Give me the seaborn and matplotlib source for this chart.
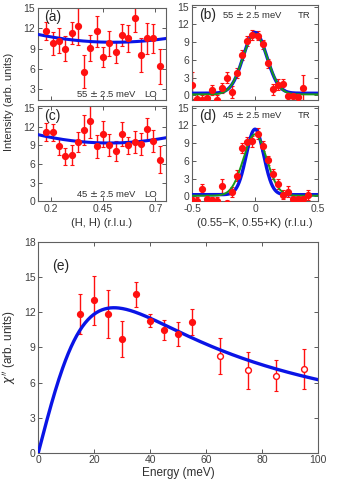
import numpy as np
import pandas as pd
import matplotlib.pyplot as plt
import seaborn as sns

sns.set_style("ticks")
plt.rcParams['font.family'] = ['Liberation Sans', 'DejaVu Sans']

# (a) / (c) longitudinal scans along (H, H)
h_lo = [0.18, 0.21, 0.24, 0.27, 0.30, 0.33, 0.36, 0.39, 0.42, 0.45,
        0.48, 0.51, 0.54, 0.57, 0.60, 0.63, 0.66, 0.69, 0.72]
lo55 = [11.6, 9.8, 10.2, 9.0, 11.3, 12.3, 5.6, 9.1, 11.6, 7.7,
        9.8, 8.5, 11.0, 10.5, 13.5, 8.1, 10.5, 10.5, 6.4]
lo55_err = [1.35, 1.7, 1.9, 1.8, 1.6, 2.7, 2.5, 1.9, 2.3, 1.5,
            1.85, 1.7, 1.6, 2.0, 2.0, 2.5, 2.3, 2.2, 2.6]
lo45 = [11.1, 11.1, 8.8, 7.2, 7.5, 9.5, 11.4, 12.9, 8.8, 10.8,
        9.0, 8.0, 10.8, 9.0, 9.5, 9.2, 11.6, 9.7, 6.7]
lo45_err = [1.4, 1.35, 1.35, 1.35, 1.6, 1.6, 2.4, 2.7, 1.8, 2.1,
            1.75, 1.6, 1.9, 1.35, 1.75, 1.75, 1.8, 1.8, 2.1]
# parabolic background fits: minimum, curvature, centre
lo55_fit = [9.94, 9.0, 0.50]
lo45_fit = [9.36, 11.6, 0.48]

# (b) / (d) transverse scans along (0.55-K, 0.55+K)
k_tr55 = [-0.50, -0.46, -0.42, -0.38, -0.34, -0.30, -0.26, -0.22, -0.18, -0.14,
          -0.10, -0.06, -0.02, 0.02, 0.06, 0.10, 0.14, 0.18, 0.22, 0.26,
          0.30, 0.34, 0.38]
tr55 = [1.7, -0.6, -0.8, -0.4, 0.9, -0.8, 1.2, 3.0, 0.5, 3.8,
        6.8, 9.2, 10.2, 10.1, 8.6, 5.4, 1.0, 1.8, 1.9, -0.2,
        -0.2, -0.3, 1.2]
tr55_err = [2.3, 1.0, 0.9, 1.0, 0.9, 0.9, 0.9, 1.0, 1.0, 0.9,
            0.8, 0.8, 0.8, 0.8, 0.8, 0.8, 0.9, 0.9, 0.9, 0.8,
            0.8, 0.9, 2.2]
k_tr45 = [-0.50, -0.46, -0.42, -0.38, -0.34, -0.30, -0.26, -0.22, -0.18, -0.14,
          -0.10, -0.06, -0.02, 0.02, 0.06, 0.10, 0.14, 0.18, 0.22, 0.26,
          0.30, 0.34, 0.38, 0.42]
tr45 = [-0.7, -0.8, 1.2, -0.4, -0.7, -0.8, 1.75, -1.2, 0.7, 3.5,
        8.2, 9.2, 9.3, 10.6, 8.5, 6.1, 3.8, 2.1, 0.3, 0.8,
        -0.5, -0.5, -0.5, 0.2]
tr45_err = [0.6, 0.6, 0.9, 0.6, 0.6, 0.6, 1.2, 0.3, 0.9, 0.9,
            0.8, 0.8, 1.0, 0.9, 0.8, 0.8, 0.8, 0.8, 0.8, 0.9,
            0.4, 0.4, 0.4, 0.9]
# gaussian fits: peak, sigma, background
tr55_blue = [10.3, 0.093, 0.34]
tr55_green = [10.2, 0.097, 0.15]
tr45_blue = [11.1, 0.069, 0.27]
tr45_green = [10.4, 0.092, 0.1]

# (e) chi'' vs energy
energy_fill = [15, 20, 25, 30, 35, 40, 45, 50, 55]
chi_fill = [11.86, 13.03, 11.86, 9.72, 13.54, 11.29, 10.49, 10.15, 11.17]
chi_fill_err = [1.7, 2.1, 2.07, 1.57, 1.04, 0.57, 0.86, 1.0, 1.13]
energy_open = [65, 75, 85, 95]
chi_open = [8.23, 7.06, 6.57, 7.17]
chi_open_err = [1.54, 1.59, 1.33, 1.74]
# relaxational fit: amplitude, gamma
chi_fit = [24.8, 27.0]

red = '#ff1010'
blue = '#0a14e6'
green = '#1a9a1a'
frame = '#606060'


def style(ax, xlim, ylim, yticks, xticks):
    ax.set_xlim(xlim)
    ax.set_ylim(ylim)
    ax.set_yticks(yticks)
    ax.set_xticks(xticks)
    ax.tick_params(direction='in', top=True, right=True, length=3,
                   width=0.6, colors='#404040', labelsize=7.5, pad=2)
    for s in ax.spines.values():
        s.set_color(frame)
        s.set_linewidth(0.8)
    ax.set_xlabel('')
    ax.set_ylabel('')


def points(ax, x, y, err, filled=True):
    ax.errorbar(x, y, yerr=err, fmt='none', ecolor=red, elinewidth=1.0,
                capsize=1.3, capthick=0.8, zorder=2)
    fc = red if filled else 'white'
    ax.plot(x, y, 'o', ms=4.2, mfc=fc, mec=red, mew=1.0, zorder=4,
            linestyle='none')


fig = plt.figure(figsize=(3.54, 4.84), dpi=100)
ax_a = fig.add_axes([0.1073, 0.7924, 0.3616, 0.1921])
ax_c = fig.add_axes([0.1073, 0.5841, 0.3616, 0.1969])
ax_b = fig.add_axes([0.5424, 0.7934, 0.3559, 0.1953])
ax_d = fig.add_axes([0.5424, 0.5841, 0.3559, 0.1969])
ax_e = fig.add_axes([0.1082, 0.0647, 0.791, 0.4347])

# longitudinal panels
hx = np.linspace(0.14, 0.75, 200)
for ax, y, e, fit, lab, en in [(ax_a, lo55, lo55_err, lo55_fit, '(a)', '55'),
                               (ax_c, lo45, lo45_err, lo45_fit, '(c)', '45')]:
    curve = pd.DataFrame({'h': hx, 'i': fit[0] + fit[1] * (hx - fit[2]) ** 2})
    points(ax, h_lo, y, e)
    sns.lineplot(data=curve, x='h', y='i', ax=ax, color=blue, lw=2.2, zorder=3)
    ax.text(0.05, 0.97, lab, transform=ax.transAxes, fontsize=10, va='top')
    ax.text(0.30, 0.04, en + r' $\pm$ 2.5 meV', transform=ax.transAxes,
            fontsize=6.8, color='#303030')
    ax.text(0.83, 0.04, 'LO', transform=ax.transAxes, fontsize=6.8,
            color='#303030')

style(ax_a, (0.14, 0.75), (1.3, 15.1), [3, 6, 9, 12, 15], [0.2, 0.45, 0.7])
ax_a.set_xticklabels([])
style(ax_c, (0.14, 0.75), (0, 15.3), [0, 3, 6, 9, 12, 15], [0.2, 0.45, 0.7])
ax_c.set_xticklabels(['0.2', '0.45', '0.7'])
ax_c.set_xlabel('(H, H) (r.l.u.)', fontsize=8, color='#303030', labelpad=3)
fig.text(0.025, 0.79, 'Intensity (arb. units)', rotation=90, fontsize=8,
         color='#303030', va='center', ha='center')

# transverse panels
kx = np.linspace(-0.5, 0.5, 300)
for ax, k, y, e, fb, fg, lab, en in [
        (ax_b, k_tr55, tr55, tr55_err, tr55_blue, tr55_green, '(b)', '55'),
        (ax_d, k_tr45, tr45, tr45_err, tr45_blue, tr45_green, '(d)', '45')]:
    points(ax, k, y, e)
    cb = pd.DataFrame({'k': kx, 'i': fb[2] + fb[0] * np.exp(-0.5 * (kx / fb[1]) ** 2)})
    cg = pd.DataFrame({'k': kx, 'i': fg[2] + fg[0] * np.exp(-0.5 * (kx / fg[1]) ** 2)})
    sns.lineplot(data=cb, x='k', y='i', ax=ax, color=blue, lw=2.4, zorder=3)
    sns.lineplot(data=cg, x='k', y='i', ax=ax, color=green, lw=1.4, zorder=3)
    ax.text(0.06, 0.97, lab, transform=ax.transAxes, fontsize=10, va='top')
    ax.text(0.24, 0.87, en + r' $\pm$ 2.5 meV', transform=ax.transAxes,
            fontsize=6.8, color='#303030')
    ax.text(0.84, 0.87, 'TR', transform=ax.transAxes, fontsize=6.8,
            color='#303030')

style(ax_b, (-0.5, 0.5), (-0.8, 15.2), [0, 3, 6, 9, 12, 15], [-0.5, 0, 0.5])
ax_b.set_xticklabels([])
style(ax_d, (-0.5, 0.5), (-0.85, 15.3), [0, 3, 6, 9, 12, 15], [-0.5, 0, 0.5])
ax_d.set_xticklabels(['-0.5', '0', '0.5'])
ax_d.set_xlabel('(0.55\u2212K, 0.55+K) (r.l.u.)', fontsize=8, color='#303030',
                labelpad=3)

# energy dependence
ex = np.linspace(0, 100, 300)
ce = pd.DataFrame({'E': ex, 'chi': chi_fit[0] * ex * chi_fit[1] / (ex ** 2 + chi_fit[1] ** 2)})
sns.lineplot(data=ce, x='E', y='chi', ax=ax_e, color=blue, lw=2.4, zorder=3)
points(ax_e, energy_fill, chi_fill, chi_fill_err)
points(ax_e, energy_open, chi_open, chi_open_err, filled=False)
style(ax_e, (0, 100), (0, 18), [0, 3, 6, 9, 12, 15, 18], [0, 20, 40, 60, 80, 100])
ax_e.set_xlabel('Energy (meV)', fontsize=8.5, color='#303030', labelpad=1)
ax_e.set_ylabel(r"$\chi''$ (arb. units)", fontsize=8.5, color='#303030',
                labelpad=4)
ax_e.text(0.05, 0.92, '(e)', transform=ax_e.transAxes, fontsize=10, va='top')

fig.savefig('out.png', dpi=100)
